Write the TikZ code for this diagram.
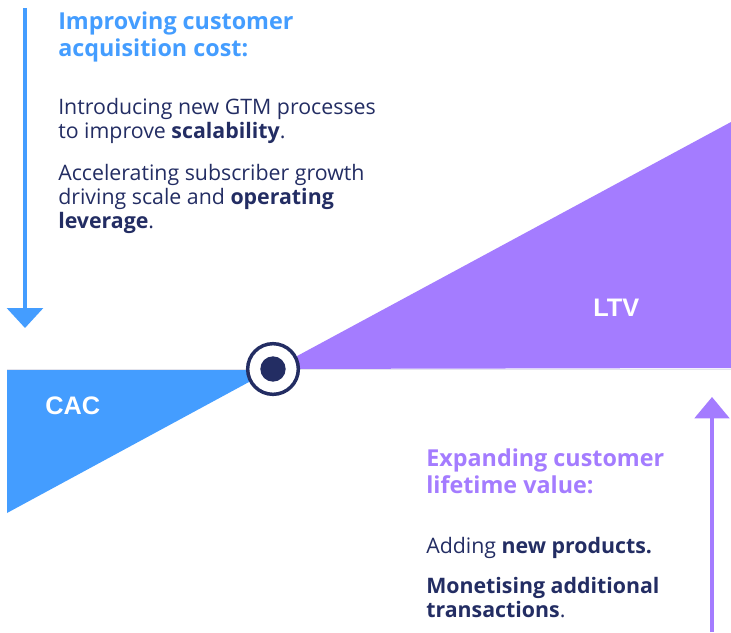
\documentclass[tikz,border=0pt]{standalone}
\usepackage{fontspec}
\setmainfont{Open Sans}
\newfontfamily\labelfont{Liberation Sans}
\usetikzlibrary{arrows.meta}

\definecolor{cacblue}{HTML}{449DFF}
\definecolor{ltvpurple}{HTML}{A47CFF}
\definecolor{navy}{HTML}{232D63}
\definecolor{basegray}{HTML}{E4E4EC}

\tikzset{
  heading/.style={anchor=base west, inner sep=0pt, align=left,
    font=\fontsize{17.5}{20.25}\selectfont\bfseries},
  bodytext/.style={anchor=base west, inner sep=0pt, align=left, text=navy,
    font=\fontsize{16}{18}\selectfont},
  arealabel/.style={inner sep=0pt, text=white,
    font=\labelfont\fontsize{19}{22}\selectfont\bfseries},
}

\begin{document}
\begin{tikzpicture}[x=0.75pt,y=-0.75pt]
    \useasboundingbox (0,0) rectangle (731,632);

    % Zentrum
    \coordinate (hub) at (273,369);

    % CAC Dreieck
    \fill[cacblue] (7,369) -- (hub) -- (7,513) -- cycle;
    \node[arealabel, anchor=base west] (cac) at (45,414) {CAC};

    % LTV Dreieck
    \fill[ltvpurple] (hub) -- (731,122) -- (731,368) -- cycle;
    \node[arealabel, anchor=base west] (ltv) at (593,316) {LTV};

    % Grundlinie
    \draw[basegray, line width=1pt] (7,369.5) -- (731,369.5);

    % Drehpunkt
    \node[circle, draw=navy, fill=white, line width=2.6pt, minimum size=38pt, inner sep=0pt] (pivot) at (hub) {};
    \node[circle, fill=navy, minimum size=19pt, inner sep=0pt] (pivotdot) at (hub) {};

    % Pfeil nach unten
    \coordinate (downstart) at (25,8);
    \coordinate (downend) at (25,328);
    \draw[cacblue, line width=2.4pt, -{Triangle[width=27pt, length=15pt]}] (downstart) -- (downend);

    % Pfeil nach oben
    \coordinate (upstart) at (712,632);
    \coordinate (upend) at (712,397);
    \draw[ltvpurple, line width=2.4pt, -{Triangle[width=26pt, length=16pt]}] (upstart) -- (upend);

    % Texte oben (Anker: Grundlinie der letzten Zeile)
    \node[heading, text=cacblue] (cachead) at (58,56) {Improving customer\\acquisition cost:};
    \node[bodytext] (gtm) at (58,138) {Introducing new GTM processes\\to improve \textbf{scalability}.};
    \node[bodytext] (growth) at (58,228) {Accelerating subscriber growth\\driving scale and \textbf{operating}\\\textbf{leverage}.};

    % Texte unten
    \node[heading, text=ltvpurple] (ltvhead) at (426,493) {Expanding customer\\lifetime value:};
    \node[bodytext] (products) at (426,553) {Adding \textbf{new products.}};
    \node[bodytext] (transact) at (426,617) {\textbf{Monetising additional}\\\textbf{transactions}.};
\end{tikzpicture}
\end{document}
